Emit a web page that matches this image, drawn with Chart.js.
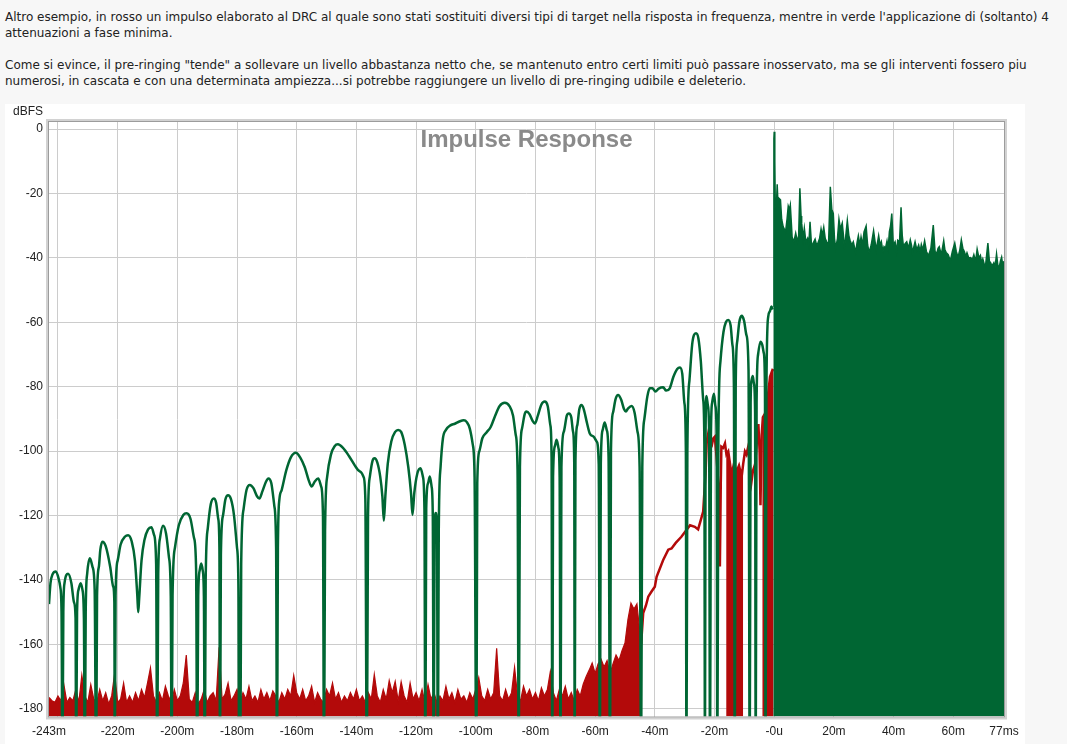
<!DOCTYPE html>
<html>
<head>
<meta charset="utf-8">
<script src="https://cdn.jsdelivr.net/npm/chart.js@4.4.1/dist/chart.umd.min.js"></script>
<style>
html,body{margin:0;padding:0;background:#f7f7f7;width:1067px;height:744px;overflow:hidden}
#txt{position:absolute;left:5px;top:9px;font:12px "DejaVu Sans",sans-serif;color:#222;line-height:16px;white-space:nowrap}
#panel{position:absolute;left:5px;top:104px;width:1020px;height:640px;background:#fff}
#wrap{position:absolute;left:0;top:100px;width:1067px;height:644px}
</style>
</head>
<body>
<div id="txt">
<div>Altro esempio, in rosso un impulso elaborato al DRC al quale sono stati sostituiti diversi tipi di target nella risposta in frequenza, mentre in verde l'applicazione di (soltanto) 4</div>
<div>attenuazioni a fase minima.</div>
<div>&nbsp;</div>
<div>Come si evince, il pre-ringing "tende" a sollevare un livello abbastanza netto che, se mantenuto entro certi limiti può passare inosservato, ma se gli interventi fossero piu</div>
<div>numerosi, in cascata e con una determinata ampiezza...si potrebbe raggiungere un livello di pre-ringing udibile e deleterio.</div>
</div>
<div id="panel"></div>
<div id="wrap"><canvas id="c"></canvas></div>
<script>
// ---------- DATA (time in ms, level in dBFS) ----------
const chartTitle = 'Impulse Response';
const yAxisTitle = 'dBFS';
const xTickValues = [-243, -240, -220, -200, -180, -160, -140, -120, -100, -80, -60, -40, -20, 0, 20, 40, 60, 77];
const yTickValues = [0, -20, -40, -60, -80, -100, -120, -140, -160, -180];

// green: pre-ringing lobes (nulls drop below the axis floor)
const greenPreRinging = [
[-243,-147.5],[-242.5,-141],[-241.8,-138.2],[-240.7,-137.4],[-239.8,-139.5],[-239.2,-142.3],[-238.8,-150],[-238.5,-200],
[-238.2,-150],[-237.8,-141],[-236.6,-138.1],[-235.5,-141],[-234.6,-147],[-234.1,-151.9],[-233.9,-200],
[-233.6,-150],[-233.1,-143],[-232.4,-141],[-231.8,-143],[-231.3,-152],[-231.0,-200],
[-230.7,-150],[-230.2,-138],[-229.3,-133.3],[-228.4,-136],[-227.7,-143],[-227.2,-200],
[-226.9,-145],[-226.3,-136],[-225.8,-130.6],[-225.1,-128.1],[-224.0,-129.5],[-222.5,-135.9],[-221.5,-142],[-221.1,-147],[-220.95,-200],
[-220.7,-145],[-220.0,-134],[-219.0,-129],[-217.5,-126.5],[-216.5,-126.1],[-215.3,-128],[-214.2,-134],[-213.4,-145],[-213.1,-150],
[-212.8,-146],[-212.0,-134],[-211.0,-127.5],[-209.8,-124.3],[-208.7,-123.6],[-207.8,-126],[-207.1,-135],[-206.75,-200],
[-206.4,-138],[-205.8,-127],[-204.8,-123.2],[-203.8,-125.5],[-202.8,-133],[-202.2,-145],[-201.9,-200],
[-201.6,-145],[-200.8,-130],[-199.5,-123],[-198.0,-119.8],[-196.9,-119.3],[-195.6,-121],[-194.4,-127],[-193.7,-137],[-193.35,-200],
[-193.0,-145],[-192.5,-137],[-192.0,-134.9],[-191.5,-137],[-191.1,-145],[-190.8,-200],
[-190.5,-140],[-189.8,-124],[-188.8,-116.5],[-187.8,-114.7],[-187.0,-116],[-186.3,-121],[-185.9,-130],[-185.7,-200],
[-185.4,-132],[-184.7,-120],[-183.9,-115],[-183.0,-113.7],[-182.0,-115],[-181.0,-120],[-180.0,-130],[-179.5,-143.7],[-179.3,-200],
[-179.1,-165],[-178.9,-200],
[-178.6,-135],[-177.8,-118],[-176.8,-112],[-175.7,-110.5],[-174.5,-111.5],[-173.3,-114],[-172.5,-114.7],[-171.5,-112.5],[-170.3,-109.5],[-169.5,-108.5],[-168.5,-110],[-167.5,-117],[-166.9,-130],[-166.6,-200],
[-166.3,-130],[-165.8,-115],[-165.0,-112],[-163.5,-106],[-162.0,-102],[-160.3,-100.5],[-158.8,-102],[-157.3,-105],[-156.0,-109],[-155.0,-111],[-154.0,-109.5],[-152.8,-108.5],[-151.8,-111],[-151.2,-120],[-150.85,-200],
[-150.5,-125],[-149.8,-108],[-148.5,-101],[-147.3,-98.5],[-146.2,-97.9],[-144.5,-99],[-142.5,-101.5],[-140.5,-104.5],[-139.5,-105.8],[-138.3,-106.7],[-137.6,-108],[-137.0,-115],[-136.5,-200],
[-136.1,-120],[-135.5,-108],[-134.6,-103],[-133.9,-102.2],[-133.0,-103.5],[-132.0,-108],[-131.3,-114],[-130.8,-121.6],
[-130.3,-114],[-129.5,-104],[-128.3,-97],[-127.0,-94],[-126.0,-93.4],[-125.0,-94],[-123.8,-98],[-122.6,-105],[-121.7,-113],[-121.2,-119.8],
[-120.6,-113],[-119.6,-107],[-118.5,-105.3],[-117.7,-108],[-117.2,-118],[-116.9,-200],
[-116.6,-118],[-116.0,-110],[-115.4,-107.9],[-114.8,-111],[-114.4,-120],[-114.1,-200],
[-113.8,-125],[-113.4,-119.2],[-113.0,-125],[-112.7,-200],
[-112.4,-125],[-111.8,-105],[-111.0,-96],[-110.0,-93.4],[-108.5,-92],[-107.0,-91.5],[-105.5,-90.8],[-104.0,-90.4],[-103.0,-91],[-102.0,-93],[-101.0,-98],[-100.4,-108],[-99.8,-200],
[-99.5,-110],[-98.8,-100],[-97.8,-96],[-96.4,-94.2],[-95.0,-92.5],[-93.5,-89],[-92.0,-86],[-90.3,-85],[-88.7,-86],[-87.5,-89],[-86.6,-95],[-86.0,-106],[-85.6,-200],
[-85.2,-105],[-84.5,-93],[-83.6,-88.5],[-83.0,-87.7],[-82.0,-88.5],[-81.0,-90.5],[-80.2,-91.4],[-79.2,-89],[-78.0,-85.5],[-76.9,-84.6],[-75.9,-86],[-75.0,-92],[-74.6,-102],[-74.35,-200],
[-74.1,-108],[-73.5,-98.5],[-72.9,-96.5],[-72.3,-99],[-71.9,-108],[-71.6,-200],
[-71.3,-105],[-70.5,-94],[-69.5,-89],[-68.8,-88.3],[-68.0,-89.5],[-67.4,-94],[-67.0,-104],[-66.85,-200],
[-66.6,-103],[-66.0,-92],[-65.3,-87],[-64.6,-85.7],[-63.8,-87],[-62.8,-91],[-61.8,-94.5],[-60.5,-95.5],[-59.5,-97],[-58.8,-104],[-58.4,-200],
[-58.1,-104],[-57.5,-93.5],[-56.8,-91.1],[-56.1,-93.5],[-55.5,-102],[-55.0,-200],
[-54.7,-100],[-54.0,-88],[-53.2,-84],[-52.3,-82.6],[-51.3,-84],[-50.3,-87],[-49.7,-87.7],[-49.0,-86.8],[-47.8,-86],[-46.8,-88],[-45.8,-94],[-45.1,-105],[-44.6,-200],
[-44.2,-105],[-43.5,-90],[-42.5,-83],[-41.7,-80.5],[-40.8,-80.5],[-39.8,-81.5],[-38.7,-80.6],[-37.2,-80.2],[-36.2,-81.2],[-35.0,-80.5],[-33.8,-77],[-32.5,-74.5],[-31.6,-74],[-30.8,-76],[-30.1,-85],[-29.6,-100],[-29.4,-200],
[-29.1,-100],[-28.4,-78],[-27.5,-67],[-26.9,-64],[-26.2,-63.4],[-25.4,-65],[-24.6,-72],[-23.8,-84],[-23.4,-98],[-23.2,-200],
[-23.0,-95],[-22.7,-82.9],[-22.2,-86],[-21.8,-95],[-21.5,-200],
[-21.2,-95],[-20.8,-85],[-20.2,-82.2],[-19.7,-86],[-19.3,-95],[-19.05,-200],
[-18.7,-95],[-18.0,-72],[-17.0,-63],[-16.2,-60],[-15.4,-59.3],[-14.6,-61],[-14.0,-67],[-13.5,-80],[-13.2,-200],
[-12.9,-80],[-12.4,-66],[-11.7,-60],[-10.9,-58],[-10.1,-59.5],[-9.3,-64],[-8.6,-75],[-8.2,-200],
[-7.9,-85],[-7.6,-78],[-7.2,-76.7],[-6.8,-79],[-6.4,-88],[-6.2,-200],
[-5.9,-85],[-5.4,-70],[-4.6,-66],[-4.0,-67],[-3.5,-69.5],[-3.1,-80],[-2.9,-200],
[-2.6,-80],[-2.0,-58.2],[-1.4,-56.5],[-0.9,-55.1],[-0.5,-56]
];

// green: main impulse and its decay (drawn filled)
const greenImpulse = [
[-0.3,-55],[-0.1,-3],[0.0,-0.8],[0.2,-10],[0.35,-22.6],[0.7,-25],[1.0,-17.1],[1.3,-24],[1.6,-21.5],[2.1,-22],
[2.5,-28],[3.0,-30.3],[3.8,-31.9],[4.3,-28],[4.7,-23.9],[5.1,-25],[5.4,-23.6],[5.8,-30],[6.0,-33.5],[6.6,-35],
[7.2,-32.3],[7.8,-35],[8.2,-33],[8.6,-18.4],[9.0,-27],[9.2,-29.2],[9.7,-34],[10.1,-30.8],[10.6,-35],[11.2,-33.9],
[11.6,-36],[12.0,-28.8],[12.5,-36],[12.9,-35.7],[13.7,-34.2],[14.2,-36],[14.6,-35.5],[15.2,-34],[15.7,-31],[16.1,-33],
[16.6,-30.5],[17.1,-34],[17.6,-35],[18.2,-36],[18.8,-17.9],[19.3,-25],[19.8,-26.2],[20.2,-34],[20.6,-37],[21.2,-34],
[21.7,-28],[22.2,-31],[22.8,-29.2],[23.2,-33],[23.5,-37.3],[24.0,-33],[24.5,-28.4],[25.0,-33],[25.4,-34.5],[26.0,-36],
[26.5,-35],[27.3,-38.3],[27.8,-35],[28.2,-33.1],[28.7,-36],[29.1,-33.5],[29.6,-36],[30.1,-31.9],[30.8,-30.1],[31.3,-36],
[31.8,-38.3],[32.5,-36],[33.3,-31.6],[33.8,-35],[34.2,-37.5],[35.0,-33.1],[35.5,-36],[35.9,-35],[36.4,-38],[36.8,-36.5],
[37.3,-37],[37.8,-34.7],[38.2,-37],[38.6,-31.8],[39.0,-30],[39.4,-26.2],[39.9,-36],[40.5,-35],[41.0,-38],[41.4,-34.5],
[42.0,-35],[42.5,-24.3],[42.9,-33],[43.3,-36.4],[43.9,-35.5],[44.4,-35],[45.0,-37],[45.6,-34.4],[46.0,-36],[46.3,-38.3],
[46.8,-36.5],[47.2,-35],[47.8,-37.5],[48.4,-36],[48.9,-38],[49.3,-35.8],[49.8,-37.5],[50.4,-34.7],[51.0,-38],[51.7,-39.3],
[52.5,-37],[53.3,-29.8],[53.9,-38],[54.5,-38.6],[54.9,-37],[55.3,-36.5],[56.0,-39],[56.8,-34.7],[57.2,-37.5],[57.6,-38.3],
[58.3,-39],[59.0,-40.9],[59.7,-38],[60.5,-35.4],[61.0,-38],[61.6,-39.8],[62.2,-37.5],[62.7,-34.4],[63.2,-37],[63.7,-38],
[64.2,-39.5],[64.6,-38.4],[65.2,-40],[65.8,-39.9],[66.4,-40.5],[66.9,-39],[67.5,-41],[68.0,-37.3],[68.6,-40],[69.1,-39.2],
[69.5,-41.5],[69.9,-40.3],[70.4,-42],[70.8,-42.5],[71.2,-39],[71.6,-35.4],[72.1,-41],[72.5,-41.5],[73.0,-42.5],[73.6,-41.5],
[74.0,-43],[74.5,-38.8],[74.9,-42],[75.3,-43.4],[75.8,-41],[76.2,-39.8],[76.6,-42.5],[77.0,-41]
];

// red: noise floor before the impulse (drawn filled)
const redNoiseFloor = [
[-243,-176.5],[-242,-177.5],[-241,-178],[-240,-176],[-239,-177.5],[-238,-172.6],[-237,-178],[-236,-176.5],[-235,-177.5],[-234,-174],
[-233,-178],[-232,-169.5],[-231,-176],[-230,-178],[-229,-172.5],[-228,-177],[-227,-178],[-226,-174],[-225,-177.5],[-224,-175],
[-223,-178.5],[-222,-176],[-221,-169],[-220,-178],[-219,-177],[-218,-172],[-217,-178],[-216,-176],[-215,-178],[-214,-175],
[-213,-177.5],[-212,-174],[-211,-176.5],[-210,-172],[-209,-167.3],[-208,-176],[-207,-178],[-206,-175],[-205,-177.5],[-204,-173],
[-203,-176],[-202,-178],[-201,-174],[-200,-177.5],[-199,-176],[-198,-172],[-197,-163.3],[-196,-177],[-195,-178],[-194,-175],
[-193,-178.5],[-192,-177],[-191,-174],[-190,-178],[-189,-176],[-188,-175],[-187,-177.5],[-186,-160.9],[-185,-177],[-184,-175.5],
[-183,-172],[-182,-177.5],[-181,-176],[-180,-174],[-179,-178],[-178,-175],[-177,-177],[-176,-173],[-175,-177.5],[-174,-176],
[-173,-178],[-172,-174],[-171,-177],[-170,-175],[-169,-177.5],[-168,-174.5],[-167,-176],[-166,-178],[-165,-175],[-164,-177],
[-163,-174],[-162,-176],[-161,-169.6],[-160,-175],[-159,-177],[-158,-174],[-157,-177.5],[-156,-176],[-155,-173],[-154,-178],
[-153,-175],[-152,-177],[-151,-178],[-150,-174],[-149,-176],[-148,-172],[-147,-177],[-146,-175],[-145,-178],[-144,-176],
[-143,-177.5],[-142,-175],[-141,-177],[-140,-174],[-139,-177.5],[-138,-176],[-137,-178],[-136,-175],[-135,-177],[-134,-169.3],
[-133,-176],[-132,-178],[-131,-174],[-130,-177],[-129,-171.2],[-128,-175],[-127,-171.5],[-126,-177.5],[-125,-171.6],[-124,-176],
[-123,-178],[-122,-172],[-121,-177],[-120,-175],[-119,-177.5],[-118,-174],[-117,-178],[-116,-172.5],[-115,-177],[-114,-175],
[-113,-178],[-112,-176],[-111,-177.5],[-110,-173],[-109,-177],[-108,-175],[-107,-178],[-106,-174],[-105,-177],[-104,-176],
[-103,-178],[-102,-175],[-101,-177],[-100,-174],[-99,-170.3],[-98,-176],[-97,-177.5],[-96,-174],[-95,-177],[-94,-175],
[-93,-161.2],[-92,-176],[-91,-177.5],[-90,-174],[-89,-177],[-88,-175],[-87,-167.1],[-86,-176],[-85,-177.5],[-84,-173],
[-83,-176],[-82,-174],[-81,-177],[-80,-175],[-79,-177.5],[-78,-173.5],[-77,-176],[-76,-174],[-75,-168.4],[-74,-175],
[-73,-177.5],[-72,-174],[-71,-176],[-70,-173],[-69,-177],[-68,-175],[-67,-177.5],[-66,-174],[-65,-176],[-64,-172.4],
[-63,-170],[-62,-168],[-61,-165.8],[-60,-169],[-59,-166],[-58,-164.6],[-57,-167],[-56,-165],[-55,-169],[-54,-166],
[-53,-163.3],[-52,-165],[-51,-162],[-50,-159.6],[-49,-152.2],[-48,-147.2],[-47,-149],[-46,-147.4],[-45,-156.5],[-44.6,-160]
];

// red: pre-echo envelope rising towards the impulse (line)
const redPreEcho = [
[-44.6,-160],[-43.9,-150.3],[-43.0,-148],[-42.2,-145.2],[-41.1,-143.6],[-40.0,-142.1],[-39.4,-139],[-37.2,-133.8],[-35.5,-130.6],
[-34.4,-130.2],[-33.0,-128.5],[-31.1,-126.6],[-29.4,-124.5],[-28.2,-123],[-26.6,-123.5],[-25.5,-124.3],[-24.3,-120.4],[-23.8,-118.8],
[-23.0,-106.9],[-22.6,-97],[-22.1,-94.5],[-21.6,-99],[-21.0,-98.6],[-20.4,-96],[-19.9,-95.5],[-19.4,-101],[-19.1,-104.8],[-18.6,-112],
[-18.2,-135.8],[-17.9,-110],[-17.7,-98.6],[-17.1,-99],[-16.5,-97.6],[-16.0,-101],[-15.4,-100.1],[-14.8,-104],[-14.3,-107.4],[-13.5,-104],
[-12.6,-106.3],[-11.8,-104.5],[-10.9,-107.9],[-10.4,-104],[-9.8,-100.1],[-9.3,-101],[-8.7,-98.6],[-8.2,-104],[-7.6,-109.4],[-7.1,-106],
[-6.4,-104],[-5.8,-97],[-5.3,-91.6],[-4.9,-100],[-4.6,-116.8],[-4.2,-95],[-3.8,-89.5],[-3.2,-88.5],[-2.7,-87.5],[-2.0,-82],
[-1.4,-76.9],[-0.6,-74.8],[-0.2,-75]
];

// red: dense bursts that reach the floor (drawn filled)
const redBurstA = [
[-16.1,-101],[-15.4,-100.1],[-14.8,-104],[-14.3,-107.4],[-13.5,-104],[-12.6,-106.3],[-11.8,-104.5],[-10.9,-107.9],[-10.4,-104]
];
const redBurstB = [
[-4.0,-92],[-3.8,-89.5],[-3.2,-88.5],[-2.7,-87.5],[-2.0,-82],[-1.4,-76.9],[-0.6,-74.8],[-0.2,-75]
];

// ---------- CHART ----------
const GREEN = '#006633';
const RED = '#b30a0a';
const toXY = arr => arr.map(p => ({x: p[0], y: p[1]}));

const decor = {
  id: 'decor',
  beforeDatasetsDraw(chart) {
    const {ctx, chartArea: a} = chart;
    ctx.save();
    ctx.font = 'bold 24px "Liberation Sans", Arial, sans-serif';
    ctx.fillStyle = '#8a8a8a';
    ctx.textAlign = 'center';
    ctx.textBaseline = 'alphabetic';
    ctx.fillText(chartTitle, (a.left + a.right) / 2, a.top + 25);
    ctx.restore();
  },
  afterDraw(chart) {
    const {ctx, chartArea: a} = chart;
    ctx.save();
    ctx.strokeStyle = '#d2d2d2';
    ctx.lineWidth = 2;
    ctx.strokeRect(a.left - 2, a.top - 2, a.right - a.left + 4, a.bottom - a.top + 4);
    ctx.strokeStyle = '#9c9c9c';
    ctx.lineWidth = 1;
    ctx.strokeRect(a.left - 0.5, a.top - 0.5, a.right - a.left + 1, a.bottom - a.top + 1);
    ctx.font = '12px "Liberation Sans", Arial, sans-serif';
    ctx.fillStyle = '#222';
    ctx.textAlign = 'right';
    ctx.textBaseline = 'middle';
    ctx.fillText(yAxisTitle, a.left - 6, a.top - 10);
    ctx.restore();
  }
};

new Chart(document.getElementById('c'), {
  type: 'line',
  data: {
    datasets: [
      {data: toXY(greenPreRinging), borderColor: GREEN, borderWidth: 2.5, fill: false, pointRadius: 0, cubicInterpolationMode: 'monotone', order: 1, clip: 0},
      {data: toXY(greenImpulse), borderColor: GREEN, backgroundColor: GREEN, borderWidth: 1.5, fill: 'start', pointRadius: 0, tension: 0, order: 1, clip: 0},
      {data: toXY(redPreEcho), borderColor: RED, borderWidth: 2.5, fill: false, pointRadius: 0, tension: 0, order: 2, clip: 0},
      {data: toXY(redBurstA), borderColor: RED, backgroundColor: RED, borderWidth: 1, fill: 'start', pointRadius: 0, tension: 0, order: 2, clip: 0},
      {data: toXY(redBurstB), borderColor: RED, backgroundColor: RED, borderWidth: 1, fill: 'start', pointRadius: 0, tension: 0, order: 2, clip: 0},
      {data: toXY(redNoiseFloor), borderColor: RED, backgroundColor: RED, borderWidth: 1.2, fill: 'start', pointRadius: 0, tension: 0, order: 3, clip: 0}
    ]
  },
  options: {
    responsive: true,
    maintainAspectRatio: false,
    animation: false,
    devicePixelRatio: 1,
    layout: {padding: {left: 0, right: 63, top: 22, bottom: 0}},
    plugins: {legend: {display: false}, tooltip: {enabled: false}},
    scales: {
      x: {
        type: 'linear', min: -243, max: 77,
        afterBuildTicks: s => { s.ticks = xTickValues.map(v => ({value: v})); },
        afterFit: s => { s.height = 27.5; },
        grid: {color: c => (c.tick && (c.tick.value === -243 || c.tick.value === 77)) ? 'rgba(0,0,0,0)' : '#cccccc', drawTicks: false, lineWidth: 1},
        border: {display: false},
        ticks: {
          autoSkip: false, maxRotation: 0, padding: 8, color: '#222',
          font: {family: '"Liberation Sans", Arial, sans-serif', size: 12},
          callback: v => v === -240 ? '' : v === 0 ? '-0u' : v === 77 ? '77ms' : v + 'm'
        }
      },
      y: {
        type: 'linear', min: -182.4, max: 2.2,
        afterBuildTicks: s => { s.ticks = yTickValues.map(v => ({value: v})); },
        afterFit: s => { s.width = 49; },
        grid: {color: '#cccccc', drawTicks: false, lineWidth: 1},
        border: {display: false},
        ticks: {
          padding: 6, color: '#222',
          font: {family: '"Liberation Sans", Arial, sans-serif', size: 12},
          callback: v => String(v)
        }
      }
    }
  },
  plugins: [decor]
});
</script>
</body>
</html>
